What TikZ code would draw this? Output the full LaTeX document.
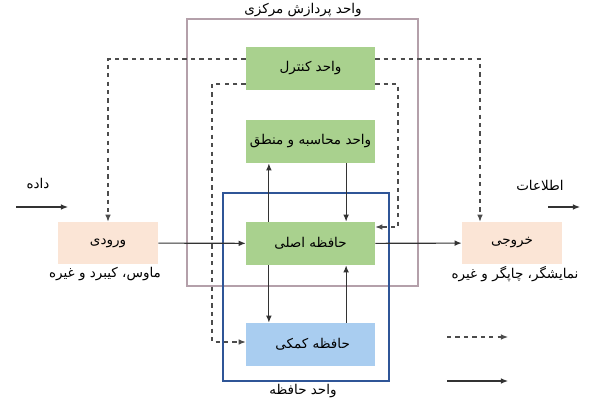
\documentclass[tikz,border=0pt]{standalone}
\usepackage{fontspec}
\newfontfamily\arabicfont[Script=Arabic]{DejaVu Sans}
\TeXXeTstate=1
\usetikzlibrary{arrows.meta}
\newcommand{\fa}[1]{\beginR #1\endR}
\definecolor{unitgreen}{RGB}{169,209,142}
\definecolor{unitblue}{RGB}{169,205,240}
\definecolor{ioorange}{RGB}{251,229,214}
\definecolor{cpuframe}{RGB}{180,160,170}
\definecolor{memframe}{RGB}{47,85,151}

\begin{document}
\begin{tikzpicture}[x=0.025cm,y=-0.025cm,font=\arabicfont\fontsize{9.6}{11}\selectfont,
  unit/.style={minimum width=3.225cm, minimum height=1.075cm, inner sep=0pt},
  iobox/.style={fill=ioorange, minimum width=2.5cm, minimum height=1.05cm, inner sep=0pt},
  flow/.style={-{Latex[length=5pt,width=4pt]}, draw=black!80, line width=0.8pt},
  ctrl/.style={-{Latex[length=5pt,width=4pt]}, draw=black!70, line width=0.8pt, dash pattern=on 3pt off 3pt},
  label/.style={inner sep=1pt}]
\def\xunit{310.5}
\def\shup{0.2375cm}
\def\shdown{0.3875cm}

\useasboundingbox (0,0) rectangle (600,400);

\draw[cpuframe, line width=0.9pt] (187,19) rectangle (418,286);
\draw[memframe, line width=0.9pt] (223,193) rectangle (389,381);

\foreach \name/\y/\col/\txt in {
control/68.5/unitgreen/واحد کنترل,
alu/141.5/unitgreen/واحد محاسبه و منطق,
mainmem/243.5/unitgreen/حافظه اصلی,
auxmem/344.5/unitblue/حافظه کمکی
}{
  \node[unit, fill=\col] (\name) at (\xunit,\y) {\fa{\txt}};
}

\node[iobox] (input) at (108,243) {\fa{ورودی}};
\node[iobox] (output) at (512,243) {\fa{خروجی}};

\node[label] (cpulabel) at (303,10) {\fa{واحد پردازش مرکزی}};
\node[label] (memlabel) at (303,391) {\fa{واحد حافظه}};
\node[label] (inlabel) at (105,274) {\fa{ماوس، کیبرد و غیره}};
\node[label] (outlabel) at (515,274) {\fa{نمایشگر، چاپگر و غیره}};
\node[label] (datalabel) at (38,184) {\fa{داده}};
\node[label] (infolabel) at (540,185) {\fa{اطلاعات}};

\draw[flow] (input) -- (mainmem);
\draw[flow] (mainmem) -- (output);
\draw[flow] ([xshift=-1.04cm]mainmem.north) -- ([xshift=-1.04cm]alu.south);
\draw[flow] ([xshift=0.89cm]alu.south) -- ([xshift=0.89cm]mainmem.north);
\draw[flow] ([xshift=-1.04cm]mainmem.south) -- ([xshift=-1.04cm]auxmem.north);
\draw[flow] ([xshift=0.89cm]auxmem.north) -- ([xshift=0.89cm]mainmem.south);

\coordinate (auxbend) at (212,342);
\coordinate (mainbend) at (398,227);
\draw[ctrl] ([yshift=\shup]control.west) -| (input.north);
\draw[ctrl] ([yshift=\shup]control.east) -| ([xshift=-0.8cm]output.north);
\draw[ctrl] ([yshift=-\shdown]control.west) -| (auxbend) -- (auxbend -| auxmem.west);
\draw[ctrl] ([yshift=-\shdown]control.east) -| (mainbend) -- (mainbend -| mainmem.east);

\coordinate (datastart) at (16,207);
\coordinate (dataend) at (68,207);
\coordinate (infostart) at (548,207);
\coordinate (infoend) at (580,207);
\draw[flow] (datastart) -- (dataend);
\draw[flow] (infostart) -- (infoend);

\coordinate (legdashA) at (447,337);
\coordinate (legdashB) at (508,337);
\coordinate (legflowA) at (447,381);
\coordinate (legflowB) at (508,381);
\draw[ctrl] (legdashA) -- (legdashB);
\draw[flow] (legflowA) -- (legflowB);
\end{tikzpicture}
\end{document}
